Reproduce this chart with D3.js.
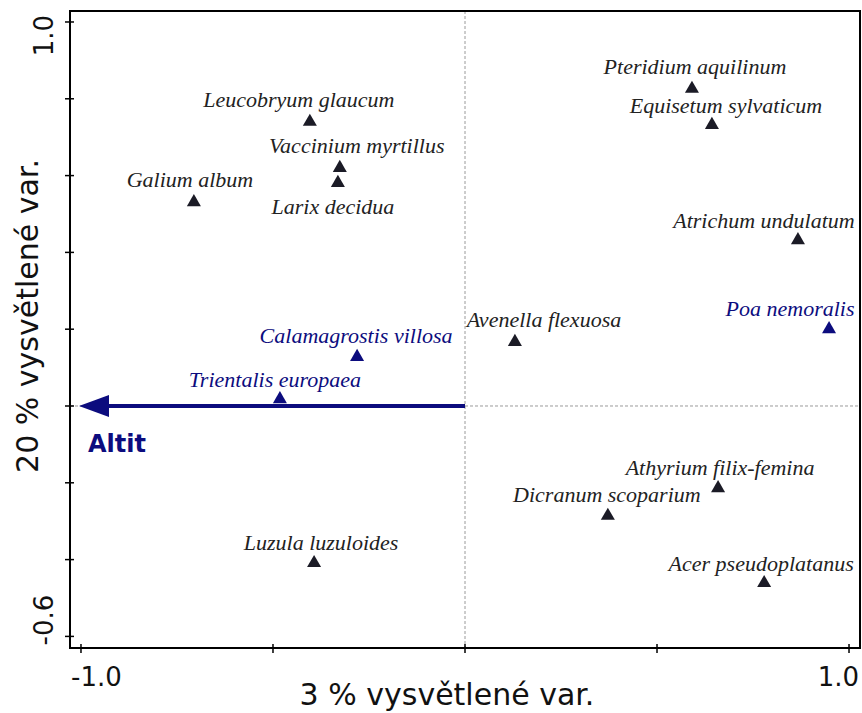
<!DOCTYPE html>
<meta charset="utf-8">
<style>
body { margin: 0; background: #fff; }
.tick-lab { font-family: "DejaVu Sans", Verdana, sans-serif; font-size: 26px; fill: #111; }
.title { font-family: "DejaVu Sans", Verdana, sans-serif; font-size: 30px; fill: #111; }
</style>
<svg id="chart" width="862" height="713"></svg>
<script src="https://cdnjs.cloudflare.com/ajax/libs/d3/7.8.5/d3.min.js"></script>
<script>

var species = ["Galium album", "Leucobryum glaucum", "Vaccinium myrtillus", "Larix decidua",
  "Calamagrostis villosa", "Trientalis europaea", "Luzula luzuloides", "Avenella flexuosa",
  "Pteridium aquilinum", "Equisetum sylvaticum", "Atrichum undulatum", "Poa nemoralis",
  "Athyrium filix-femina", "Dicranum scoparium", "Acer pseudoplatanus"];
var axis1 = [-0.706, -0.404, -0.326, -0.331, -0.281, -0.482, -0.393, 0.130,
  0.591, 0.643, 0.867, 0.948, 0.659, 0.372, 0.779];
var axis2 = [0.531, 0.740, 0.620, 0.581, 0.128, 0.018, -0.409, 0.167,
  0.826, 0.732, 0.432, 0.200, -0.214, -0.286, -0.461];
var fitted = [false, false, false, false, true, true, false, false,
  false, false, false, true, false, false, false];

var envName = ["Altit"];
var envX = [-1.0];
var envY = [0.0];

var xTicks = [-1.0, -0.5, 0, 0.5, 1.0];
var yTicks = [-0.6, -0.4, -0.2, 0, 0.2, 0.4, 0.6, 0.8, 1.0];

// label nudges (px) relative to the symbol: dx, dy of the label centre/baseline
var labelNudge = [[-4, -15], [-11, -15], [17, -15], [-5, 31], [-1, -14], [-5, -12], [7, -13], [29, -15],
  [3, -15], [14, -12], [-34, -12], [-39, -13], [2, -13], [-1, -14], [-3, -12]];

var svg = d3.select("#chart");
var pL = 70, pR = 860, pT = 11, pB = 648;

var x = d3.scaleLinear().domain([-1.0286, 1.0286]).range([pL, pR]);
var y = d3.scaleLinear().domain([-0.6302, 1.0286]).range([pB, pT]);

var navy = "#0c0c7e", dark = "#1b1b26";

// zero lines
svg.append("line").attr("x1", x(0)).attr("x2", x(0)).attr("y1", pT).attr("y2", pB)
  .attr("stroke", "#9a9a9a").attr("stroke-width", 1).attr("stroke-dasharray", "3,2");
svg.append("line").attr("x1", pL).attr("x2", pR).attr("y1", y(0)).attr("y2", y(0))
  .attr("stroke", "#9a9a9a").attr("stroke-width", 1).attr("stroke-dasharray", "3,2");

// frame
svg.append("rect").attr("x", pL).attr("y", pT).attr("width", pR - pL).attr("height", pB - pT)
  .attr("fill", "none").attr("stroke", "#000").attr("stroke-width", 2);

// ticks crossing the frame
svg.selectAll(".xt").data(xTicks).enter().append("line")
  .attr("x1", function(d) { return x(d); }).attr("x2", function(d) { return x(d); })
  .attr("y1", pB - 4).attr("y2", pB + 5).attr("stroke", "#000").attr("stroke-width", 1.5);
svg.selectAll(".yt").data(yTicks).enter().append("line")
  .attr("y1", function(d) { return y(d); }).attr("y2", function(d) { return y(d); })
  .attr("x1", pL - 5).attr("x2", pL + 4).attr("stroke", "#000").attr("stroke-width", 1.5);

// end tick labels only
var fmt = function(v) { return d3.format(".1f")(v).replace("\u2212", "-"); };
svg.append("text").attr("class", "tick-lab").attr("x", pL + 1).attr("y", 686)
  .attr("text-anchor", "start").text(fmt(xTicks[0]));
svg.append("text").attr("class", "tick-lab").attr("x", pR - 1).attr("y", 686)
  .attr("text-anchor", "end").text(fmt(xTicks[xTicks.length - 1]));
svg.append("text").attr("class", "tick-lab")
  .attr("transform", "translate(53," + (y(yTicks[yTicks.length - 1]) - 7) + ") rotate(-90)")
  .attr("text-anchor", "end").text(fmt(yTicks[yTicks.length - 1]));
svg.append("text").attr("class", "tick-lab")
  .attr("transform", "translate(53," + (y(yTicks[0]) + 9) + ") rotate(-90)")
  .attr("text-anchor", "start").text(fmt(yTicks[0]));

// axis titles
svg.append("text").attr("class", "title").attr("x", 447).attr("y", 705)
  .attr("text-anchor", "middle").text("3 % vysvětlené var.");
svg.append("text").attr("class", "title")
  .attr("transform", "translate(38,316) rotate(-90)")
  .attr("text-anchor", "middle").text("20 % vysvětlené var.");

// environmental arrow
var env = svg.selectAll(".env").data(envName).enter().append("g");
env.append("line")
  .attr("x1", x(0)).attr("y1", y(0))
  .attr("x2", function(d, i) { return x(envX[i]) + 26; })
  .attr("y2", function(d, i) { return y(envY[i]); })
  .attr("stroke", navy).attr("stroke-width", 4);
env.append("path")
  .attr("d", function(d, i) {
    var tx = x(envX[i]), ty = y(envY[i]);
    return "M" + (tx - 2) + "," + ty + "L" + (tx + 28) + "," + (ty - 11) + "L" + (tx + 28) + "," + (ty + 11) + "Z";
  })
  .attr("fill", navy);
env.append("text")
  .attr("x", function(d, i) { return x(envX[i]) + 7; })
  .attr("y", function(d, i) { return y(envY[i]) + 46; })
  .attr("fill", navy).attr("font-family", "'DejaVu Sans', Verdana, sans-serif")
  .attr("font-weight", "bold").attr("font-size", 24)
  .text(function(d) { return d; });

// species
var tri = d3.symbol().type(d3.symbolTriangle).size(85);
var sp = svg.append("g").selectAll("g").data(species).enter().append("g")
  .attr("transform", function(d, i) { return "translate(" + x(axis1[i]) + "," + y(axis2[i]) + ")"; });
sp.append("path").attr("d", tri)
  .attr("fill", function(d, i) { return fitted[i] ? navy : dark; });
sp.append("text")
  .attr("x", function(d, i) { return labelNudge[i][0]; })
  .attr("y", function(d, i) { return labelNudge[i][1]; })
  .attr("font-family", "'Liberation Serif', 'Times New Roman', serif")
  .attr("font-style", "italic").attr("font-size", 22)
  .attr("text-anchor", "middle")
  .attr("fill", function(d, i) { return fitted[i] ? navy : "#222"; })
  .text(function(d) { return d; });

</script>
